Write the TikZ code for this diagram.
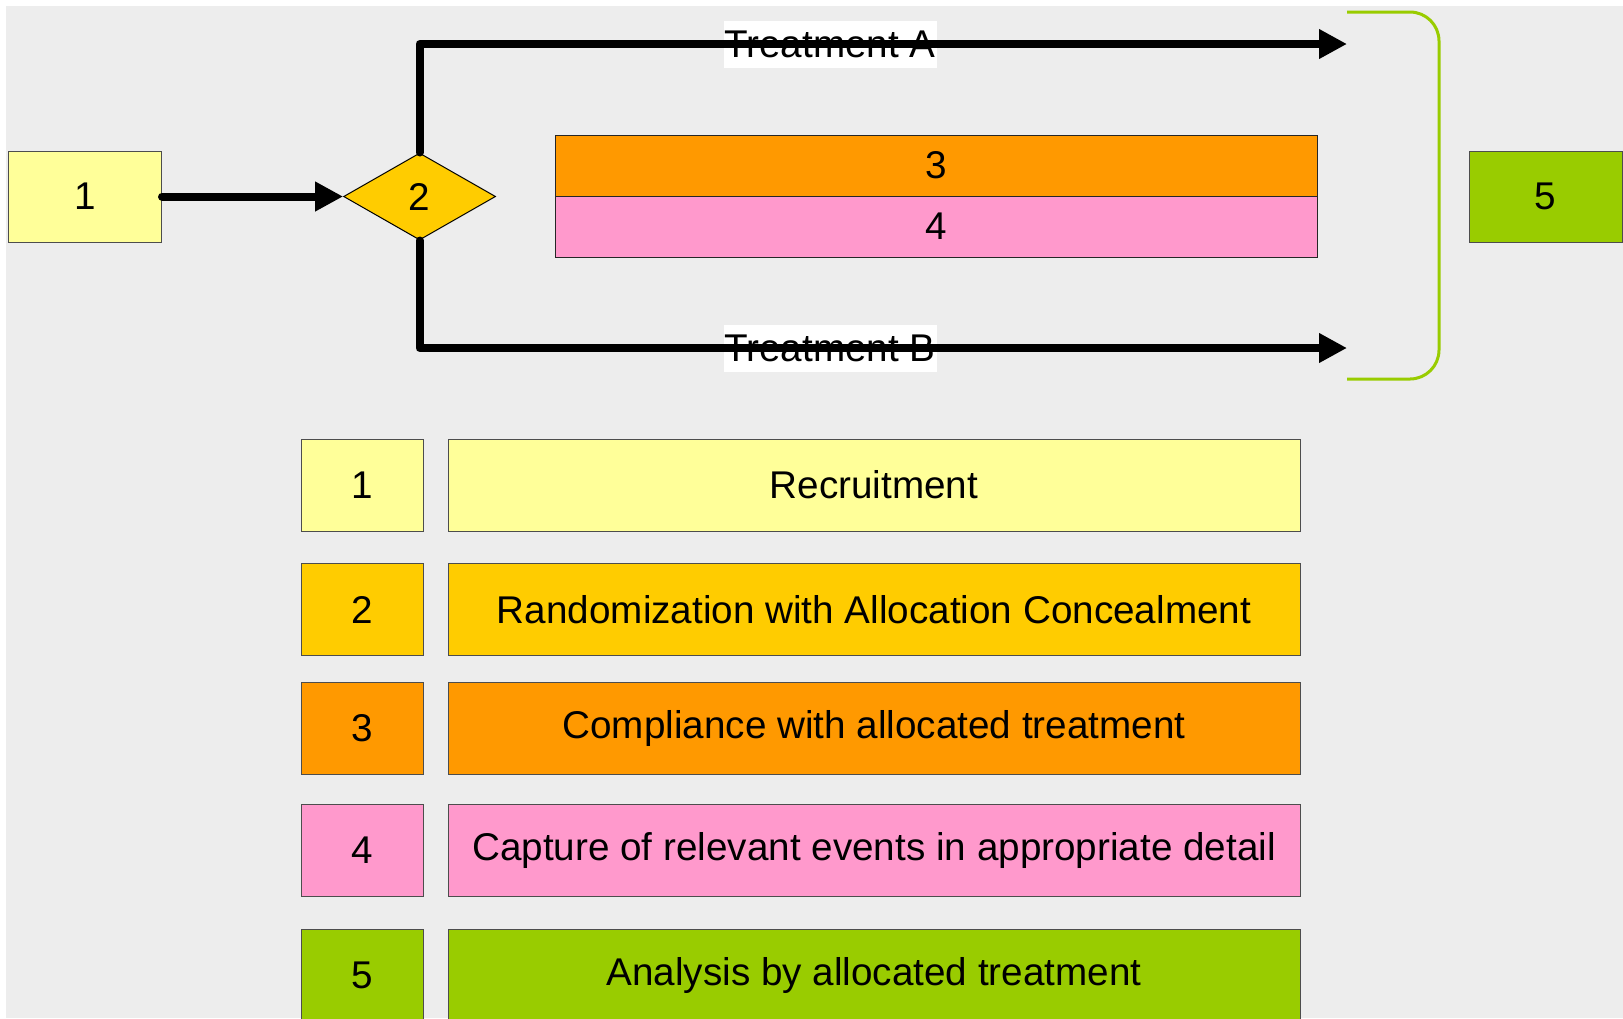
\documentclass[tikz,border=0pt]{standalone}
\usepackage{fontspec}
\setmainfont{Liberation Sans}
\usepackage{tikz}
\usetikzlibrary{positioning,shapes.geometric,arrows.meta}

\definecolor{bgcol}{HTML}{EDEDED}
\definecolor{recruitcol}{HTML}{FFFF99}
\definecolor{randcol}{HTML}{FFCC00}
\definecolor{compcol}{HTML}{FF9900}
\definecolor{capturecol}{HTML}{FF99CC}
\definecolor{analysiscol}{HTML}{99CC00}
\definecolor{strokecol}{HTML}{4D4D4D}

\tikzset{
  box/.style={draw=strokecol, line width=0.5bp, inner sep=0pt,
    font=\fontsize{19.4}{23}\selectfont},
  flowbox/.style={box, minimum width=76.5bp, minimum height=45.5bp},
  barbox/.style={box, draw=black!85, minimum width=380.5bp, minimum height=30.5bp},
  numbox/.style={box, minimum width=61bp, minimum height=46bp},
  descbox/.style={box, minimum width=426bp, minimum height=46bp},
  armlabel/.style={fill=white, inner sep=0pt, minimum width=106.5bp,
    minimum height=23.5bp, font=\fontsize{19.4}{23}\selectfont},
  arm/.style={line width=4bp, line join=round, line cap=round,
    -{Triangle[length=14bp,width=14bp]}},
  bracket/.style={draw=analysiscol, line width=1.5bp, rounded corners=14.5bp},
}

\begin{document}
\begin{tikzpicture}[x=0.5bp, y=-0.5bp]
  \useasboundingbox (0,0) rectangle (1623,1018);
  \fill[bgcol] (6,6) rectangle (1623,1018);
  %%
  % Node: recruit
  \node[flowbox, fill=recruitcol] (recruit) at (85,196.5) {1};
  % Node: rand
  \node[diamond, draw=black, fill=randcol, line width=0.5bp, inner sep=0pt,
    minimum width=76bp, minimum height=43.5bp,
    font=\fontsize{19.4}{23}\selectfont] (rand) at (419.6,196.5) {2};
  % Node: comply, capture
  \node[barbox, fill=compcol] (comply) at (936.5,165.5) {3};
  \node[barbox, fill=capturecol] (capture) at (936.5,226.5) {4};
  % Node: analysis
  \node[flowbox, fill=analysiscol] (analysis) at (1545.5,196.5) {5};
  %
  % Labels go under the arms
  \node[armlabel] (armA) at (830,44.5) {Treatment A};
  \node[armlabel] (armB) at (830,348.5) {Treatment B};
  \coordinate (endA) at (1347,44);
  \coordinate (endB) at (1347,348);
  % Edge: recruit -> rand
  \draw[arm] (recruit.east) -- (rand.west);
  % Edge: rand -> arms
  \draw[arm] (rand.north) |- (endA);
  \draw[arm] (rand.south) |- (endB);
  % Bracket round both arms
  \coordinate (bracketA) at (1347,12);
  \coordinate (bracketB) at (1347,379);
  \draw[bracket] (bracketA) -- (1439,12) -- (1439,379) -- (bracketB);
  %
  % Legend
  \node[numbox, fill=recruitcol] (key1) at (362,485) {1};
  \node[descbox, fill=recruitcol, right=12bp of key1] (desc1) {Recruitment};
  \node[numbox, fill=randcol] (key2) at (362,609.5) {2};
  \node[descbox, fill=randcol, right=12bp of key2] (desc2) {Randomization with Allocation Concealment};
  \node[numbox, fill=compcol] (key3) at (362,728.5) {3};
  \node[descbox, fill=compcol, right=12bp of key3] (desc3) {Compliance with allocated treatment};
  \node[numbox, fill=capturecol] (key4) at (362,850) {4};
  \node[descbox, fill=capturecol, right=12bp of key4] (desc4) {Capture of relevant events in appropriate detail};
  \node[numbox, fill=analysiscol] (key5) at (362,975) {5};
  \node[descbox, fill=analysiscol, right=12bp of key5] (desc5) {Analysis by allocated treatment};
  %
\end{tikzpicture}
\end{document}
